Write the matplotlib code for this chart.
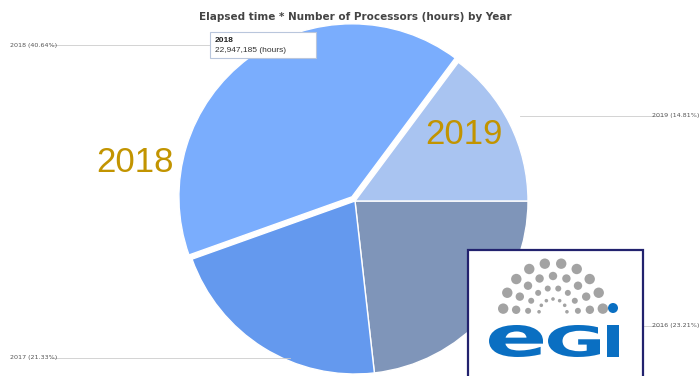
import numpy as np
import matplotlib
matplotlib.use("Agg")
import matplotlib.pyplot as plt
from matplotlib import font_manager
from matplotlib.patches import Rectangle, Circle, PathPatch
from matplotlib.textpath import TextPath
from matplotlib.font_manager import FontProperties
from matplotlib.transforms import Affine2D

# data
years = ["2016", "2017", "2018", "2019"]
shares = [23.21, 21.33, 40.64, 14.81]
colors = ["#7f95b9", "#6499ee", "#7aadfd", "#a9c4f1"]
hover_year = "2018"
hover_hours = "22,947,185"
title = "Elapsed time * Number of Processors (hours) by Year"

W, H = 700, 376
names = {f.name for f in font_manager.fontManager.ttflist}
narrow = "Liberation Sans Narrow" if "Liberation Sans Narrow" in names else "DejaVu Sans"

fig = plt.figure(figsize=(W / 100, H / 100), dpi=100)
ax = fig.add_axes([0, 0, 1, 1])

def Y(p):
    return H - p

cx, cy, r = 355, Y(201), 173
# matplotlib's explode is in data units, so scale by the radius
explode = [0.03 * r if y == hover_year else 0 for y in years]
ax.pie(shares, colors=colors, startangle=0, counterclock=False,
       center=(cx, cy), radius=r, explode=explode,
       wedgeprops=dict(edgecolor="white", linewidth=1))

ax.set_xlim(0, W)
ax.set_ylim(0, H)
ax.set_aspect("equal")
ax.axis("off")

# title
ax.text(355, Y(17), title, ha="center", va="center", fontsize=7.5,
        family=narrow, weight="bold", color="#444444")

# small slice labels with leader lines
lab = dict(fontsize=4.6, family=narrow, color="#555555", va="center")
pos = {"2018": (10, 45, "left", 50, 215),
       "2017": (10, 358, "left", 50, 290),
       "2019": (699, 116, "right", 520, 663),
       "2016": (699, 326, "right", 643, 663)}
for y, s in zip(years, shares):
    x, yy, ha, x0, x1 = pos[y]
    ax.plot([x0, x1], [Y(yy), Y(yy)], color="#cccccc", lw=0.6, zorder=1)
    ax.text(x, Y(yy), f"{y} ({s:.2f}%)", ha=ha, **lab)

# big year annotations
ax.text(135, Y(162), "2018", ha="center", va="center", fontsize=25,
        family="Liberation Sans", color="#c29400")
ax.text(464, Y(134), "2019", ha="center", va="center", fontsize=25,
        family="Liberation Sans", color="#c29400")

# tooltip
ax.add_patch(Rectangle((210, Y(58)), 106, 26, facecolor="white",
                       edgecolor="#b9c6dc", lw=0.8, zorder=5))
ax.text(215, Y(40), hover_year, fontsize=6, weight="bold", family="Liberation Sans",
        color="#222222", va="center", zorder=6)
ax.text(215, Y(50), f"{hover_hours} (hours)", fontsize=6, family="Liberation Sans",
        color="#333333", va="center", zorder=6)

# EGI logo
ax.add_patch(Rectangle((468, Y(380)), 175, 130, facecolor="white",
                       edgecolor="#22226e", lw=1.6, zorder=7))
lcx, lcy = 553, Y(313)
for rad, dot, n in [(50, 5.2, 10), (37, 4.2, 9), (25, 3.0, 8), (14, 1.8, 7)]:
    for a in np.linspace(np.radians(175), np.radians(5), n):
        ax.add_patch(Circle((lcx + rad * np.cos(a), lcy + rad * np.sin(a)), dot,
                            color="#a3a3a3", zorder=8, lw=0))
ax.add_patch(Circle((613, Y(308)), 5, color="#0a6fc2", zorder=9, lw=0))
fp = FontProperties(family="DejaVu Sans", weight="bold")
for ch, x0, x1 in [("e", 489, 543), ("G", 548, 600), ("I", 607, 619)]:
    tp = TextPath((0, 0), ch, size=10, prop=fp)
    bb = tp.get_extents()
    tr = (Affine2D().translate(-bb.x0, -bb.y0)
          .scale((x1 - x0) / bb.width, 32 / bb.height).translate(x0, Y(357)))
    ax.add_patch(PathPatch(tr.transform_path(tp), color="#0a6fc2", lw=0, zorder=9))

fig.savefig("out.png", dpi=100)
